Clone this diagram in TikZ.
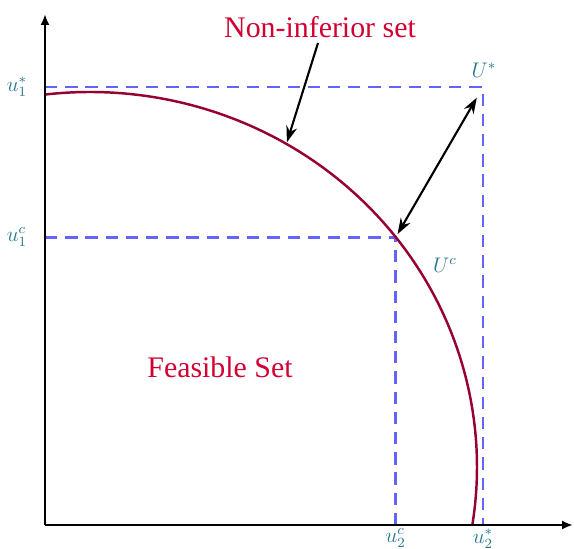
\documentclass[tikz,border=0pt]{standalone}
\usepackage{amsmath,amssymb}
\usepackage{fontspec}
\newfontfamily\tim{Liberation Serif}
\usepackage{tikz}
\usetikzlibrary{arrows.meta,calc,positioning}
\definecolor{front}{RGB}{150,0,50}
\definecolor{guide}{RGB}{100,100,250}
\definecolor{lab}{RGB}{40,120,140}
\definecolor{head}{RGB}{210,0,50}
\tikzset{axis/.style={line width=1.2pt,-{Latex[length=2.2mm,width=1.8mm]}},
  guideline/.style={guide,line width=1.6pt,dash pattern=on 7pt off 4.5pt},
  pointer/.style={line width=1.2pt,black},
  lab/.style={text=lab,inner sep=1pt,font=\large},
  head/.style={text=head,font=\tim\fontsize{17}{20}\selectfont}}
\begin{document}
\begin{tikzpicture}
  \useasboundingbox (0,0) rectangle (11.48,10.98);
  \coordinate (O) at (0.9,0.48); \coordinate (Y) at (0.9,10.7); \coordinate (X) at (11.46,0.48);
  \coordinate (C) at (1.8,1.64);
  \coordinate (Ustar) at (9.66,9.24); \coordinate (Uc) at ($(C)+(37.8:7.74 and 7.5)$);
  \coordinate (T) at ($(C)+(59.5:7.74 and 7.5)$);
  % dashed guides
  \draw[guideline] (O|-Ustar) -- (Ustar) -- (Ustar|-O);
  \draw[guideline] (O|-Uc) -- (Uc) -- (Uc|-O);
  % frontier
  \draw[front,line width=1.4pt] (C) ++(96.7:7.74 and 7.5) arc[start angle=96.7,end angle=-8.9,x radius=7.74,y radius=7.5];
  \draw[axis] (O) -- (Y); \draw[axis] (O) -- (X);
  % labels
  \foreach \p/\l in {Ustar/u_1^*,Uc/u_1^c} \node[lab,left=9pt] at (O|-\p) {$\l$};
  \node[lab,below=1pt] at (Uc|-O) {$u_2^c$}; \node[lab,below=1pt] at (Ustar|-O) {$u_2^*$};
  \node[lab] (Us) at (9.68,9.58) {$U^*$}; \node[lab] (Ucl) at (8.9,5.68) {$U^c$};
  \node[head] (NI) at (6.4,10.44) {Non-inferior set};
  \node[head] (FS) at (4.4,3.64) {Feasible Set};
  \coordinate (NIt) at (6.36,10.12);
  \draw[pointer,-{Stealth[length=3.2mm,width=2.2mm]},shorten >=1pt] (NIt) -- (T);
  \draw[pointer,{Stealth[length=3.2mm,width=2.2mm]}-{Stealth[length=3.2mm,width=2.2mm]},shorten <=2pt,shorten >=7pt] (Uc) -- (Ustar);
\end{tikzpicture}
\end{document}
